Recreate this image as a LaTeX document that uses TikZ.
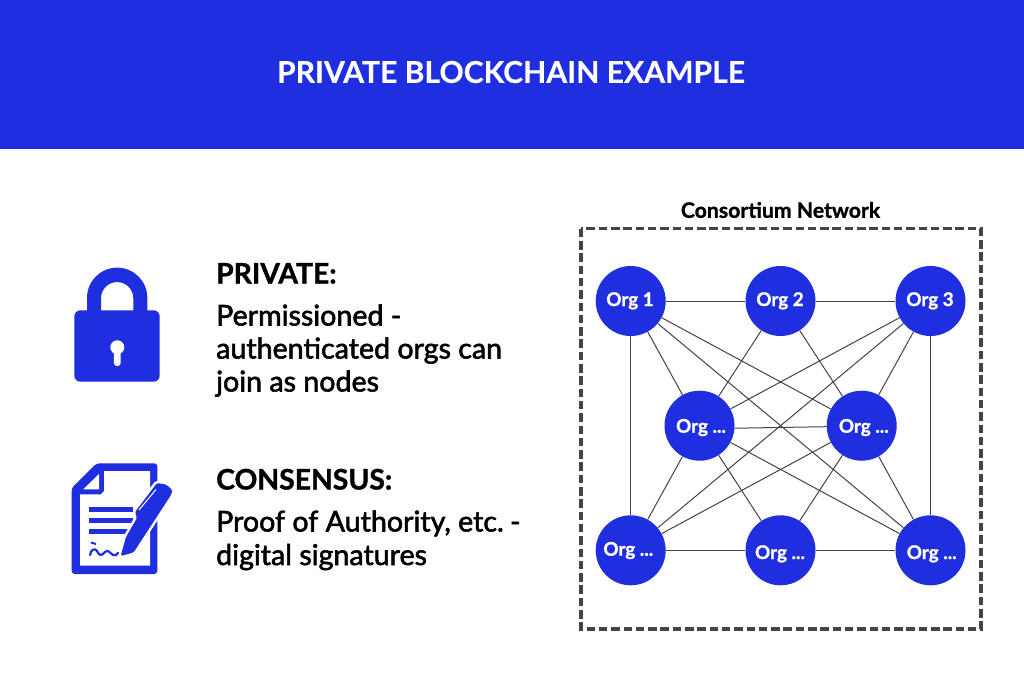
\documentclass[tikz,border=0pt]{standalone}
\usepackage{fontspec}
\setmainfont{Lato}[BoldFeatures={FakeBold=1.2}]
\newfontfamily\latomed[FakeBold=2]{Lato}
\newfontfamily\latotitle{Lato}[BoldFeatures={FakeBold=0.35}]
\definecolor{brandblue}{HTML}{1F2FE0}
\definecolor{dashgrey}{HTML}{444444}
\definecolor{edgegrey}{HTML}{444444}
\frenchspacing
\tikzset{
  x=1pt,y=-1pt,
  org/.style={circle,fill=brandblue,inner sep=0pt,minimum size=70pt},
  orgtext/.style={text=white,font=\fontsize{18.8}{22}\selectfont\bfseries,inner sep=0pt,anchor=base},
  edge/.style={draw=edgegrey,line width=1pt},
  heading/.style={anchor=base west,inner sep=0pt,font=\fontsize{28.3}{32}\selectfont\bfseries},
  bodytext/.style={anchor=base west,inner sep=0pt,font=\fontsize{28.6}{34}\selectfont\latomed},
}
\begin{document}
\begin{tikzpicture}
\useasboundingbox (0,0) rectangle (1024,698);
\fill[white] (0,0) rectangle (1024,698);
\fill[brandblue] (0,0) rectangle (1024,149);
\node[anchor=center,inner sep=0pt,text=white,font=\fontsize{30.1}{36}\selectfont\latotitle\bfseries] (title) at (511,72) {PRIVATE BLOCKCHAIN EXAMPLE};

% lock
\fill[brandblue]
  (87,312) -- (87,297.8) arc[start angle=180,end angle=360,radius=30.15] -- (147.3,312) -- (133.3,312) -- (133.3,298.2) arc[start angle=360,end angle=180,radius=16.15] -- (101,312) -- cycle;
\fill[brandblue,rounded corners=6pt] (74.3,310.3) rectangle (159.7,381.7);
\fill[white] (117.3,347.3) circle[radius=7];
\fill[white,rounded corners=3pt] (113.9,348) rectangle (120.7,366);

% document
\fill[brandblue,rounded corners=3pt] (71.7,488) -- (96.7,463.3) -- (157.3,463.3) -- (157.3,574) -- (71.7,574) -- cycle;
\fill[white] (80,494.3) -- (101,494.3) -- (104,491) -- (104,471) -- (150,471) -- (150,565.7) -- (80,565.7) -- cycle;
\fill[white] (83.3,489.3) -- (99,474) -- (99,489.3) -- cycle;
\fill[brandblue] (88.7,506.7) rectangle (133.3,512);
\fill[brandblue] (88.7,517.7) rectangle (133,523.3);
\fill[brandblue] (88.7,528.7) rectangle (133,534);
\draw[brandblue,line width=2pt] (91,542.5) -- (96,544);
\draw[brandblue,line width=2.2pt,line cap=round] (90,555) .. controls (91,549) and (95,548) .. (97,551) .. controls (99,556) and (102,556) .. (105,552) .. controls (108,549) and (110,553) .. (113,555) .. controls (115,556) and (117,555) .. (118,553);
% pen
\filldraw[draw=white,fill=brandblue,line width=5pt,rounded corners=1.5pt] (120.7,556) -- (126,537) -- (137,518) -- (135,512) -- (157,483) -- (166,484.5) -- (172.5,490) -- (171,495) -- (133.5,552.5) -- cycle;
\fill[brandblue,rounded corners=1.5pt] (120.7,556) -- (126,537) -- (137,518) -- (135,512) -- (157,483) -- (166,484.5) -- (172.5,490) -- (171,495) -- (133.5,552.5) -- cycle;
\draw[white,line width=1pt] (139,510) -- (156,489.5);

% network
\node[anchor=center,inner sep=0pt,font=\fontsize{21.2}{25}\selectfont\bfseries] (nettitle) at (780.5,210) {Consortium Network};
\draw[dashgrey,line width=3.3pt,dash pattern=on 8.5pt off 3.8pt] (581,228.7) rectangle (981,629);

\node[org] (o1) at (630.7,301) {};
\node[org] (o2) at (780.5,301) {};
\node[org] (o3) at (930.5,301) {};
\node[org] (ml) at (699.5,425.7) {};
\node[org] (mr) at (861.7,425.7) {};
\node[org] (bl) at (630.7,550.3) {};
\node[org] (bm) at (780.5,550.3) {};
\node[org] (br) at (930.5,550.3) {};

\foreach \a/\b in {o1/o2,o2/o3,o1/bl,o3/br,bl/bm,bm/br,o1/ml,o1/mr,o1/br,o2/ml,o2/mr,o3/mr,o3/ml,o3/bl,ml/bl,ml/bm,ml/br,mr/bl,mr/bm,mr/br}
  \draw[edge] (\a) -- (\b);
\draw[edge] ([yshift=-2.5pt]ml.east) -- ([yshift=-1pt]mr.west);

\node[orgtext] (t1) at (630,306) {Org 1};
\node[orgtext] (t2) at (780,306) {Org 2};
\node[orgtext] (t3) at (930,306) {Org 3};
\node[orgtext] (t4) at (701,432.7) {Org ...};
\node[orgtext] (t5) at (863.8,432.7) {Org ...};
\node[orgtext] (t6) at (628.3,555.7) {Org ...};
\node[orgtext] (t7) at (780,559) {Org ...};
\node[orgtext] (t8) at (931.7,559) {Org ...};

% text
\node[heading] (h1) at (216,283.5) {PRIVATE:};
\node[bodytext] (b1) at (216,325.5) {Permissioned -};
\node[bodytext] (b2) at (216,358.5) {authenticated orgs can};
\node[bodytext] (b3) at (216,391.5) {join as nodes};
\node[heading] (h2) at (216,489.5) {CONSENSUS:};
\node[bodytext] (b4) at (216,531.5) {Proof of Authority, etc.\kern-1pt\ -};
\node[bodytext] (b5) at (216,565) {digital signatures};
\end{tikzpicture}
\end{document}
